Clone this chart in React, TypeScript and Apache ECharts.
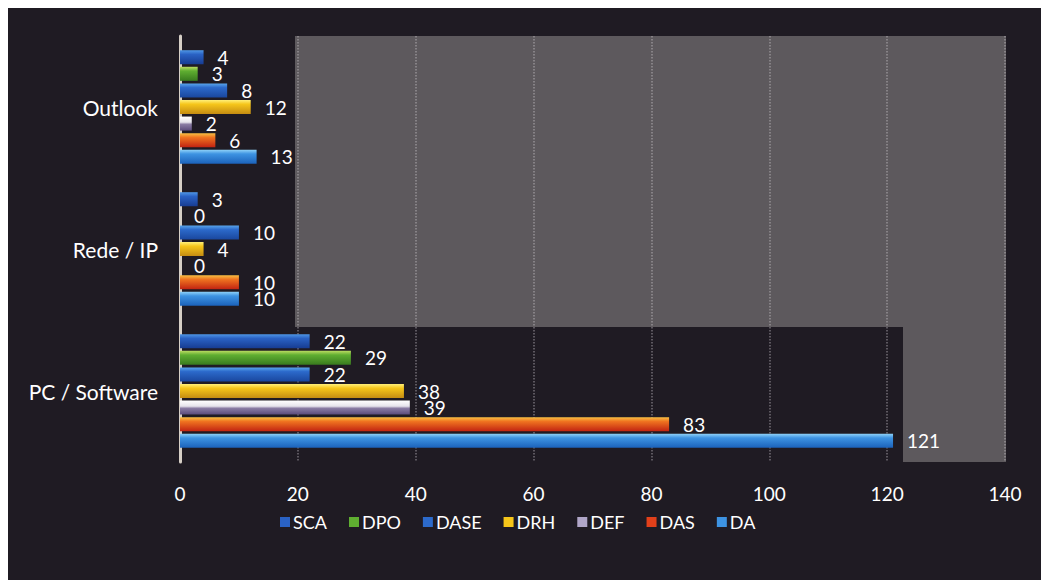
import React, { useEffect, useRef } from "react";
import * as echarts from "echarts";

const categories = ["PC / Software", "Rede / IP", "Outlook"];
const legendOrder = ["SCA", "DPO", "DASE", "DRH", "DEF", "DAS", "DA"];
const SCA = [22, 3, 4];
const DPO = [29, 0, 3];
const DASE = [22, 10, 8];
const DRH = [38, 4, 12];
const DEF = [39, 0, 2];
const DAS = [83, 10, 6];
const DA = [121, 10, 13];
const xTicks = { min: 0, max: 140, interval: 20 };

const grad = (stops: [number, string][]) =>
  new echarts.graphic.LinearGradient(0, 0, 0, 1, stops.map(([offset, color]) => ({ offset, color })));

const colors: Record<string, [number, string][]> = {
  SCA: [[0, "#4f97e6"], [0.3, "#2a62c4"], [1, "#173c92"]],
  DPO: [[0, "#bcdc62"], [0.3, "#5fae31"], [1, "#387a1e"]],
  DASE: [[0, "#5aa6ec"], [0.3, "#2c6acb"], [1, "#1a479e"]],
  DRH: [[0, "#fff07a"], [0.3, "#f6c61a"], [1, "#c48c12"]],
  DEF: [[0, "#ffffff"], [0.4, "#e6e4ec"], [0.55, "#8a7ca4"], [1, "#5a4a7a"]],
  DAS: [[0, "#f9c244"], [0.3, "#f07420"], [1, "#c22412"]],
  DA: [[0, "#8fd2f8"], [0.3, "#3d93e2"], [1, "#1b62ba"]],
};
const legendColors: Record<string, string> = {
  SCA: "#2a62c4", DPO: "#5fae31", DASE: "#2c6acb", DRH: "#f6c61a", DEF: "#b0a6c8", DAS: "#e2401a", DA: "#3d93e2",
};

const seriesData: [string, number[]][] = [
  ["SCA", SCA], ["DPO", DPO], ["DASE", DASE], ["DRH", DRH], ["DEF", DEF], ["DAS", DAS], ["DA", DA],
];

const FONT = "Lato, 'Open Sans', sans-serif";
const BG = "#1f1b23";

export default function App() {
  const ref = useRef<HTMLDivElement>(null);
  useEffect(() => {
    document.body.style.overflow = "hidden";
    const chart = echarts.init(ref.current!, null, { renderer: "svg" });
    chart.setOption({
      animation: false,
      backgroundColor: BG,
      textStyle: { fontFamily: FONT },
      graphic: [
        { type: "rect", z: -10, shape: { x: 287, y: 28, width: 711, height: 426 }, style: { fill: "#5d595d" } },
        { type: "rect", z: -9, shape: { x: 172, y: 319, width: 723, height: 135 }, style: { fill: BG } },
      ],
      grid: { left: 172, right: 36, top: 28, bottom: 118 },
      legend: {
        data: legendOrder.map((n) => ({ name: n, itemStyle: { color: legendColors[n] } })),
        bottom: 44,
        left: 267,
        icon: "rect",
        itemWidth: 10,
        itemHeight: 10,
        itemGap: 22,
        textStyle: { color: "#ffffff", fontSize: 18, fontFamily: FONT, padding: [0, 0, 0, -2] },
      },
      xAxis: {
        type: "value",
        min: xTicks.min,
        max: xTicks.max,
        interval: xTicks.interval,
        axisLine: { show: false },
        axisTick: { show: false },
        axisLabel: { color: "#ffffff", fontSize: 19, margin: 22, fontFamily: FONT },
        splitLine: { show: true, lineStyle: { color: "rgba(215,210,215,0.45)", type: "dotted", width: 1.5 } },
      },
      yAxis: {
        type: "category",
        data: categories,
        axisLine: { show: true, lineStyle: { color: "#d6cfc6", width: 3 } },
        axisTick: { show: false },
        axisLabel: { color: "#ffffff", fontSize: 21, margin: 22, fontFamily: FONT },
      },
      series: seriesData.map(([name, data]) => ({
        name,
        type: "bar",
        data,
        barCategoryGap: "20%",
        barGap: "18%",
        itemStyle: { color: grad(colors[name]) },
        label: {
          show: true,
          position: "right",
          distance: 14,
          color: "#ffffff",
          fontSize: 19,
          fontFamily: FONT,
        },
      })),
    });
    return () => chart.dispose();
  }, []);
  return (
    <div
      ref={ref}
      style={{ position: "fixed", left: 8, top: 8, width: 1033, height: 572, background: BG }}
    />
  );
}
